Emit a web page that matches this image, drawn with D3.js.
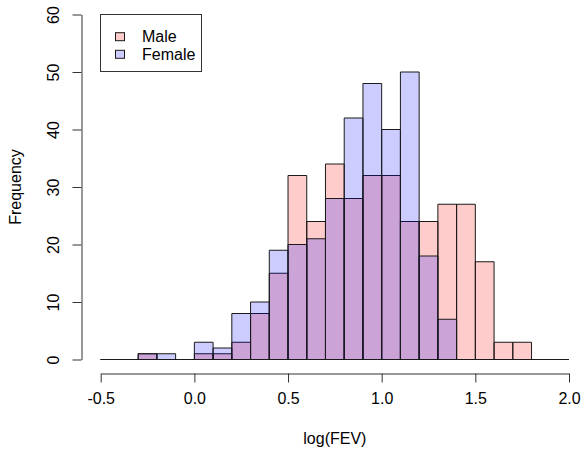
<!DOCTYPE html>
<html>
<head>
<meta charset="utf-8">
<script src="https://cdn.jsdelivr.net/npm/d3@7"></script>
<style>
  body { margin: 0; background: #fff; }
  text { font-family: "Liberation Sans", Arial, Helvetica, sans-serif; }
</style>
</head>
<body>
<div id="wrapper"></div>
<script>
// bin left edges, width 0.1
const binEdges = [-0.5, -0.4, -0.3, -0.2, -0.1, 0.0, 0.1, 0.2, 0.3, 0.4, 0.5, 0.6, 0.7,
                  0.8, 0.9, 1.0, 1.1, 1.2, 1.3, 1.4, 1.5, 1.6, 1.7, 1.8, 1.9, 2.0];
const maleCounts = [0, 0, 1, 0, 0, 1, 1, 3, 8, 15, 32, 24, 34, 28, 32, 32, 24, 24, 27, 27, 17, 3, 3, 0, 0];
const femaleCounts = [0, 0, 1, 1, 0, 3, 2, 8, 10, 19, 20, 21, 28, 42, 48, 40, 50, 18, 7, 0, 0, 0, 0, 0, 0];
const xTicks = [-0.5, 0.0, 0.5, 1.0, 1.5, 2.0];
const xTickLabels = ["-0.5", "0.0", "0.5", "1.0", "1.5", "2.0"];
const yTicks = [0, 10, 20, 30, 40, 50, 60];
const legendLabels = ["Male", "Female"];

const colors = ["rgba(255,0,0,0.2)", "rgba(0,0,255,0.2)"];
const fontSize = "16px";

const dimension = {
    width: 582,
    height: 451,
    left: 100.7,
    right: 569,
    top: 14.5,
    bottom: 359.5
};

const svg = d3.select("#wrapper").append("svg")
    .attr("width", dimension.width)
    .attr("height", dimension.height);

const xScaler = d3.scaleLinear()
    .domain([-0.5, 2.0])
    .range([dimension.left, dimension.right]);

const yScaler = d3.scaleLinear()
    .domain([0, 60])
    .range([dimension.bottom, dimension.top]);

// one closed path per bin, so empty bins still show as a line on the baseline
const barPath = (d, i) => {
    const x0 = xScaler(binEdges[i]), x1 = xScaler(binEdges[i + 1]);
    const y0 = yScaler(0), y1 = yScaler(d);
    return `M${x0},${y0}V${y1}H${x1}V${y0}Z`;
};

// histograms, male first, female drawn over it
[maleCounts, femaleCounts].forEach((counts, k) => {
    svg.append("g")
        .selectAll("path")
        .data(counts)
        .join("path")
        .attr("d", barPath)
        .attr("fill", colors[k])
        .attr("stroke", "#1a1a1a")
        .attr("stroke-width", 1);
});

// axes
const xAxis = d3.axisBottom(xScaler)
    .tickValues(xTicks)
    .tickFormat((d, i) => xTickLabels[i])
    .tickSize(9)
    .tickSizeOuter(0)
    .tickPadding(10);

const gx = svg.append("g")
    .attr("transform", "translate(0, 373.5)")
    .call(xAxis);

const yAxis = d3.axisLeft(yScaler)
    .tickValues(yTicks)
    .tickSize(9)
    .tickSizeOuter(0);

const gy = svg.append("g")
    .attr("transform", "translate(81.5, 0)")
    .call(yAxis);

[gx, gy].forEach(g => {
    g.selectAll("path, line").attr("stroke", "#333");
    g.selectAll("text")
        .attr("fill", "#000")
        .style("font-size", fontSize)
        .style("font-family", "'Liberation Sans', Arial, sans-serif");
});

gy.selectAll("text")
    .attr("transform", "rotate(-90)")
    .attr("x", 0)
    .attr("y", -23)
    .attr("dy", 0)
    .attr("text-anchor", "middle");

// axis titles
svg.append("text")
    .attr("x", (dimension.left + dimension.right) / 2)
    .attr("y", 444)
    .attr("text-anchor", "middle")
    .style("font-size", fontSize)
    .text("log(FEV)");

svg.append("text")
    .attr("transform", `translate(21, ${(dimension.top + dimension.bottom) / 2}) rotate(-90)`)
    .attr("text-anchor", "middle")
    .style("font-size", fontSize)
    .text("Frequency");

// legend
const legend = svg.append("g");
legend.append("rect")
    .attr("x", 100.5)
    .attr("y", 14.5)
    .attr("width", 101)
    .attr("height", 57)
    .attr("fill", "#fff")
    .attr("stroke", "#333");

legendLabels.forEach((label, i) => {
    const cy = 36.7 + i * 17.6;
    legend.append("rect")
        .attr("x", 115.5)
        .attr("y", cy - 4)
        .attr("width", 9)
        .attr("height", 8)
        .attr("fill", colors[i])
        .attr("stroke", "#1a1a1a");
    legend.append("text")
        .attr("x", 142)
        .attr("y", cy + 5.6)
        .style("font-size", fontSize)
        .text(label);
});
</script>
</body>
</html>
